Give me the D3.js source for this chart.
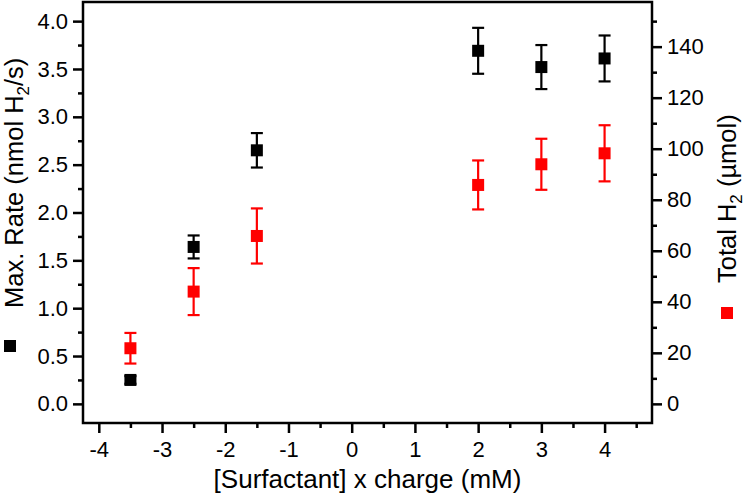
<!DOCTYPE html>
<html>
<head>
<meta charset="utf-8">
<script src="https://cdn.jsdelivr.net/npm/d3@7"></script>
<style>
  body { margin: 0; background: #fff; }
  svg { display: block; font-family: "Liberation Sans", Arial, sans-serif; }
</style>
</head>
<body>
<div class="chart"></div>
<script>
// surfactant concentration x charge (mM)
const xVals = [-3.5, -2.5, -1.5, 2, 3, 4];
// left axis: max rate (nmol H2/s)
const rate = [0.25, 1.64, 2.65, 3.69, 3.52, 3.61];
const rateErr = [0.04, 0.12, 0.18, 0.24, 0.23, 0.24];
// right axis: total H2 (umol)
const totalH2 = [21.8, 44.0, 65.8, 85.8, 93.9, 98.2];
const totalErr = [6.0, 9.2, 10.8, 9.6, 10.0, 11.0];

const xTicks = [-4, -3, -2, -1, 0, 1, 2, 3, 4];
const xMinor = [-3.5, -2.5, -1.5, -0.5, 0.5, 1.5, 2.5, 3.5, 4.5];
const leftTicks = [0, 0.5, 1, 1.5, 2, 2.5, 3, 3.5, 4];
const leftMinor = [0.25, 0.75, 1.25, 1.75, 2.25, 2.75, 3.25, 3.75];
const rightTicks = [0, 20, 40, 60, 80, 100, 120, 140];
const rightMinor = [10, 30, 50, 70, 90, 110, 130, 150];

const dims = {
    width: 746,
    height: 502,
    margin: {left: 83, right: 94, top: 2, bottom: 79}
};
const plotRight = dims.width - dims.margin.right;
const plotBottom = dims.height - dims.margin.bottom;

const svg = d3.select('.chart').append('svg')
    .attr('width', dims.width)
    .attr('height', dims.height);

const x = d3.scaleLinear().domain([-4.25, 4.75]).range([dims.margin.left, plotRight]);
const yL = d3.scaleLinear().domain([-0.2, 4.2]).range([plotBottom, dims.margin.top]);
const yR = d3.scaleLinear().domain([-7.5, 157.5]).range([plotBottom, dims.margin.top]);

const fmtX = d => String(d).replace('\u2212', '-');
const tickFont = 22;

function styleAxis(g) {
    g.select('.domain').remove();
    g.selectAll('.tick line').attr('stroke', '#000').attr('stroke-width', 2.5);
    g.selectAll('.tick text').attr('fill', '#000').style('font-size', tickFont + 'px');
}

// x axis
svg.append('g').attr('transform', `translate(0,${plotBottom})`)
    .call(d3.axisBottom(x).tickValues(xTicks).tickSize(10).tickPadding(8).tickFormat(fmtX))
    .call(styleAxis);
svg.append('g').attr('transform', `translate(0,${plotBottom})`)
    .call(d3.axisBottom(x).tickValues(xMinor).tickSize(5).tickFormat(''))
    .call(styleAxis);

// left axis
svg.append('g').attr('transform', `translate(${dims.margin.left},0)`)
    .call(d3.axisLeft(yL).tickValues(leftTicks).tickSize(10).tickPadding(5).tickFormat(d3.format('.1f')))
    .call(styleAxis);
svg.append('g').attr('transform', `translate(${dims.margin.left},0)`)
    .call(d3.axisLeft(yL).tickValues(leftMinor).tickSize(5).tickFormat(''))
    .call(styleAxis);

// right axis
svg.append('g').attr('transform', `translate(${plotRight},0)`)
    .call(d3.axisRight(yR).tickValues(rightTicks).tickSize(10).tickPadding(5).tickFormat(d3.format('d')))
    .call(styleAxis);
svg.append('g').attr('transform', `translate(${plotRight},0)`)
    .call(d3.axisRight(yR).tickValues(rightMinor).tickSize(5).tickFormat(''))
    .call(styleAxis);

// frame
svg.append('rect')
    .attr('x', dims.margin.left)
    .attr('y', dims.margin.top)
    .attr('width', plotRight - dims.margin.left)
    .attr('height', plotBottom - dims.margin.top)
    .attr('fill', 'none')
    .attr('stroke', '#000')
    .attr('stroke-width', 2.5);

const series = [
    {vals: totalH2, errs: totalErr, y: yR, color: '#ff0000'},
    {vals: rate, errs: rateErr, y: yL, color: '#000000'}
];

const cap = 6, size = 12;
series.forEach(s => {
    const pts = xVals.map((xv, i) => ({x: xv, v: s.vals[i], e: s.errs[i]}));
    const g = svg.append('g').attr('stroke', s.color).attr('fill', s.color).attr('stroke-width', 2.2);
    const bars = g.selectAll('g.err').data(pts).join('g').attr('class', 'err');
    bars.append('line')
        .attr('x1', d => x(d.x)).attr('x2', d => x(d.x))
        .attr('y1', d => s.y(d.v + d.e)).attr('y2', d => s.y(d.v - d.e));
    bars.append('line')
        .attr('x1', d => x(d.x) - cap).attr('x2', d => x(d.x) + cap)
        .attr('y1', d => s.y(d.v + d.e)).attr('y2', d => s.y(d.v + d.e));
    bars.append('line')
        .attr('x1', d => x(d.x) - cap).attr('x2', d => x(d.x) + cap)
        .attr('y1', d => s.y(d.v - d.e)).attr('y2', d => s.y(d.v - d.e));
    g.selectAll('rect').data(pts).join('rect')
        .attr('stroke', 'none')
        .attr('x', d => x(d.x) - size / 2)
        .attr('y', d => s.y(d.v) - size / 2)
        .attr('width', size)
        .attr('height', size);
});

const titleFont = 25.5;

// x title
svg.append('text')
    .attr('x', (dims.margin.left + plotRight) / 2)
    .attr('y', 488)
    .attr('text-anchor', 'middle')
    .style('font-size', '26px')
    .text('[Surfactant] x charge (mM)');

// left title with legend marker
svg.append('rect').attr('x', 4).attr('y', 340).attr('width', 12).attr('height', 12).attr('fill', '#000');
const lt = svg.append('text')
    .attr('transform', 'translate(23,308) rotate(-90)')
    .style('font-size', titleFont + 'px');
lt.append('tspan').text('Max. Rate (nmol H');
lt.append('tspan').attr('dy', 6).style('font-size', '17px').text('2');
lt.append('tspan').attr('dy', -6).text('/s)');

// right title with legend marker
svg.append('rect').attr('x', 721).attr('y', 307).attr('width', 12).attr('height', 12).attr('fill', '#ff0000');
const rt = svg.append('text')
    .attr('transform', 'translate(736,283) rotate(-90)')
    .style('font-size', titleFont + 'px');
rt.append('tspan').text('Total H');
rt.append('tspan').attr('dy', 6).style('font-size', '17px').text('2');
rt.append('tspan').attr('dy', -6).text(' (\u00b5mol)');
</script>
</body>
</html>
